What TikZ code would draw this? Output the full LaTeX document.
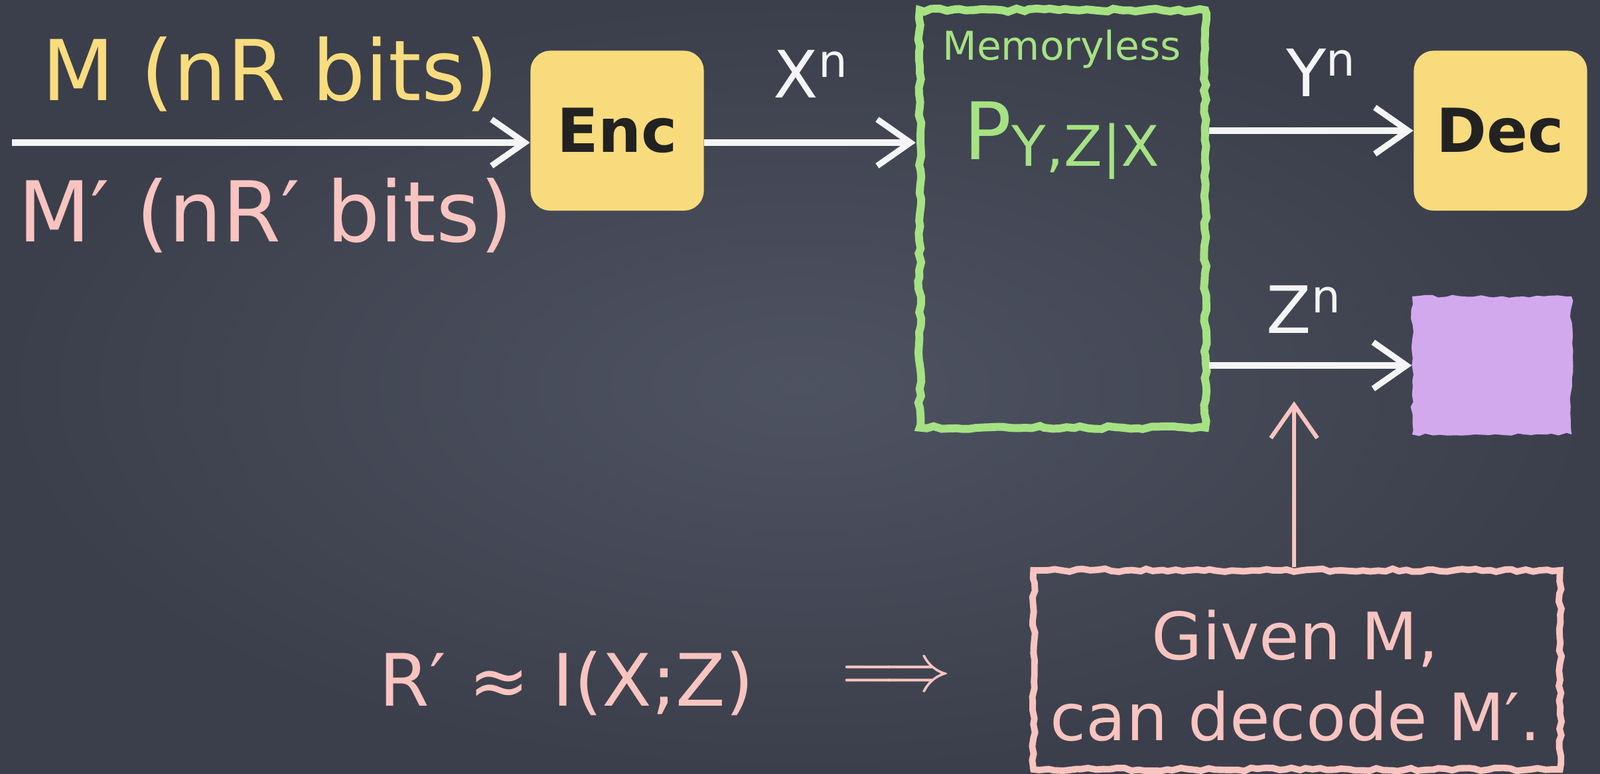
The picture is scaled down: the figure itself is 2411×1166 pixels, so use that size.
\documentclass[tikz,border=0pt]{standalone}
\usepackage{fontspec}
\setmainfont{DejaVu Sans}
\usetikzlibrary{arrows.meta,decorations.pathmorphing,calc}
\definecolor{bgin}{HTML}{4E5362}
\definecolor{bgout}{HTML}{3B3F4B}
\definecolor{chalkyellow}{HTML}{F9DC7E}
\definecolor{chalkpink}{HTML}{F8C4C0}
\definecolor{chalkgreen}{HTML}{A6E283}
\definecolor{chalkwhite}{HTML}{F5F5F5}
\definecolor{boxyellow}{HTML}{F8DB7C}
\definecolor{boxpurple}{HTML}{D3A9EE}
\definecolor{inkdark}{HTML}{222222}
\begin{document}
\begin{tikzpicture}[x=0.01cm,y=-0.01cm,
  chalkline/.style={decorate,decoration={random steps,segment length=3pt,amplitude=0.7pt}},
  wire/.style={line width=2.6pt,draw=chalkwhite,-{Straight Barb[length=0.5cm,width=0.7cm]}},
  pinkwire/.style={line width=1.8pt,draw=chalkpink,-{Straight Barb[length=0.5cm,width=0.7cm]}},
  ybox/.style={fill=boxyellow,rounded corners=0.3cm,minimum width=2.61cm,minimum height=2.41cm,
    inner sep=0pt,text=inkdark,font=\fontsize{26}{26}\selectfont\bfseries},
  chanbox/.style={draw=chalkgreen,line width=3.4pt,chalkline,minimum width=4.30cm,minimum height=6.29cm,inner sep=0pt},
  evebox/.style={fill=boxpurple,chalkline,minimum width=2.40cm,minimum height=2.08cm,inner sep=0pt},
  claimbox/.style={draw=chalkpink,line width=2.8pt,chalkline,minimum width=7.93cm,minimum height=3.0cm,inner sep=0pt},
  bigtext/.style={font=\fontsize{36}{36}\selectfont,inner sep=0pt},
  lbl/.style={font=\fontsize{28}{28}\selectfont,text=chalkwhite,inner sep=0pt}]
\useasboundingbox (0,0) rectangle (2411,1166);
\shade[inner color=bgin,outer color=bgout] (0,0) rectangle (2411,1166);

% boxes
\node[ybox] (enc) at (930,197) {Enc};
\node[ybox] (dec) at (2261,197) {Dec};
\node[chanbox] (chan) at (1601,330) {};
\node[evebox] (eve) at (2248,551) {};
\node[claimbox] (claim) at (1954,1010) {};

% texts
\node[bigtext,text=chalkyellow] (m) at (407,112) {M (nR bits)};
\node[bigtext,text=chalkpink] (mp) at (400,325) {M′ (nR′ bits)};
\node[lbl] (xn) at (1222,112) {X\textsuperscript{n}};
\node[lbl] (yn) at (1991,110) {Y\textsuperscript{n}};
\node[lbl] (zn) at (1965,467) {Z\textsuperscript{n}};
\node[font=\fontsize{17}{17}\selectfont,text=chalkgreen,inner sep=0pt] (mem) at (1600,74) {Memoryless};
\node[text=chalkgreen,inner sep=0pt] (pyzx) at (1600,212)
  {{\fontsize{34}{34}\selectfont P}\raisebox{-0.3em}{\fontsize{24}{24}\selectfont Y,Z|X}};
\node[font=\fontsize{28}{34.7}\selectfont,text=chalkpink,align=center,inner sep=0pt] (claimtxt) at (1952,1019)
  {Given M,\\can decode M′.};
\node[font=\fontsize{31}{31}\selectfont,text=chalkpink,inner sep=0pt] (rate) at (854,1030) {R′ ≈ I(X;Z)};
\node[text=chalkpink,inner sep=0pt] (implies) at (1351,1023) {\scalebox{2.9}{$\Longrightarrow$}};

% connectors
\coordinate (in) at (18,215);
\draw[wire] (in) -- (in -| enc.west);
\draw[wire] (enc.east |- in) -- (in -| chan.west);
\draw[wire] (chan.east |- dec.west) -- (dec.west);
\draw[wire] (chan.east |- eve.west) -- (eve.west);
\draw[pinkwire] (claim.north -| 1950,0) -- (1950,605);
\end{tikzpicture}
\end{document}
